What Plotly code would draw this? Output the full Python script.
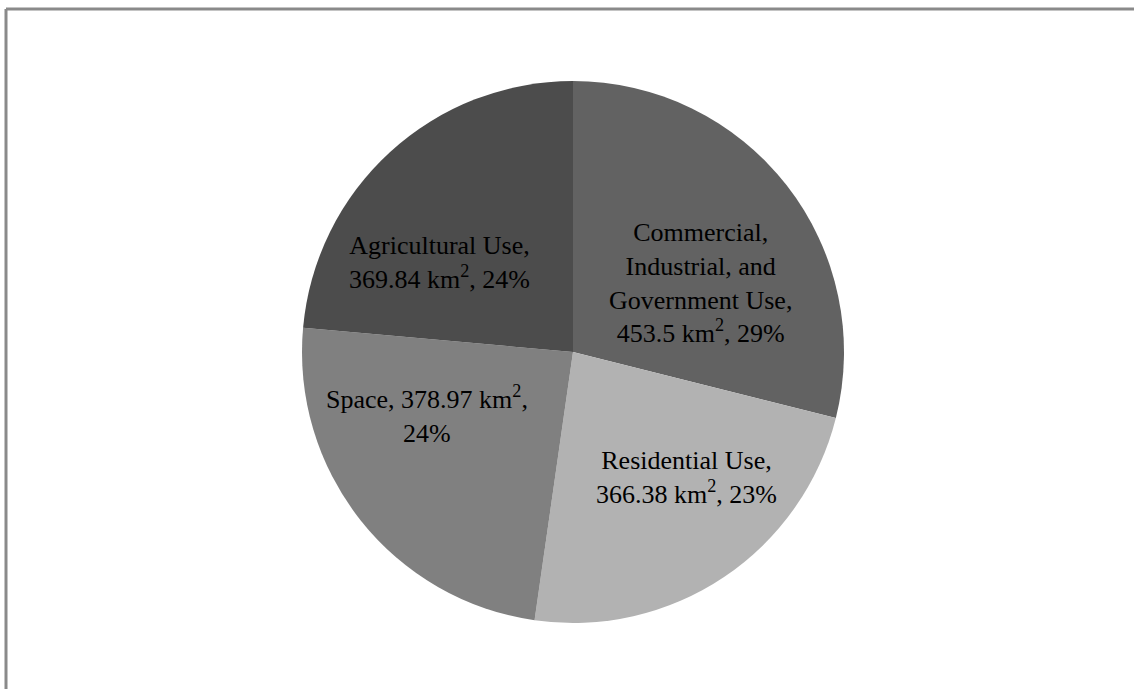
import plotly.graph_objects as go

categories = ["Commercial, Industrial, and Government Use", "Residential Use", "Space", "Agricultural Use"]
values = [453.5, 366.38, 378.97, 369.84]
name_lines = [["Commercial,", "Industrial, and", "Government Use,"], ["Residential Use,"], [], ["Agricultural Use,"]]
colors = ["#626262", "#b2b2b2", "#808080", "#4c4c4c"]

total = sum(values)
texts = []
for cat, v, lines in zip(categories, values, name_lines):
    pct = f"{round(v / total * 100)}%"
    val = f"{v} km<sup>2</sup>"
    if lines:
        texts.append("<br>".join(lines + [f"{val}, {pct}"]))
    else:
        texts.append(f"{cat}, {val},<br>{pct}")

W, H = 1134, 689
cx, cy, r = 573, 352, 271
# label block centres in pixels (layout, not data)
label_pos = [(700, 283), (686, 477), (427, 414), (439, 262)]

fig = go.Figure(go.Pie(
    labels=categories,
    values=values,
    textinfo="none",
    sort=False,
    direction="clockwise",
    rotation=0,
    marker=dict(colors=colors, line=dict(width=0)),
    hoverinfo="label+value+percent",
    domain=dict(x=[(cx - r) / W, (cx + r) / W], y=[1 - (cy + r) / H, 1 - (cy - r) / H]),
))

annotations = []
for t, (px, py) in zip(texts, label_pos):
    annotations.append(dict(
        text=t, xref="paper", yref="paper", x=px / W, y=1 - py / H,
        xanchor="center", yanchor="middle", showarrow=False, align="center",
        font=dict(family="Liberation Serif", size=26, color="black"),
    ))

fig.update_layout(
    width=W, height=H,
    margin=dict(l=0, r=0, t=0, b=0),
    paper_bgcolor="white",
    showlegend=False,
    annotations=annotations,
    shapes=[
        dict(type="line", xref="paper", yref="paper", x0=6 / W, x1=1, y0=1 - 9 / H, y1=1 - 9 / H,
             line=dict(color="#8a8a8a", width=3)),
        dict(type="line", xref="paper", yref="paper", x0=6 / W, x1=6 / W, y0=0, y1=1 - 9 / H,
             line=dict(color="#8a8a8a", width=3)),
    ],
)

fig.write_html("out.html")
